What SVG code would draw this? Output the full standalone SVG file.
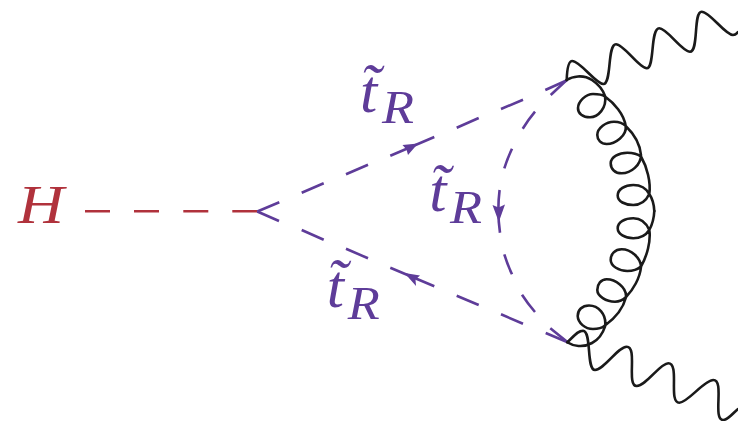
<svg xmlns="http://www.w3.org/2000/svg" width="738" height="421" viewBox="0 0 738 421">
<style>
.h{stroke:#b0323c;stroke-width:2.6;fill:none}
.s{stroke:#5e3c99;stroke-width:2.6;fill:none}
.k{stroke:#1a1a1a;stroke-width:2.6;fill:none;stroke-linejoin:round;stroke-linecap:round}
.a{fill:#5e3c99}
text{font-family:"Liberation Serif",serif;font-style:italic}
.p{fill:#5e3c99}
.t{font-size:62px}
.r{font-size:46px}
</style>
<g id="connectors">
<path class="h" d="M85,211.3H110M134,211.3H159M183.3,211.3H208.3M232.3,211.3H257.3"/>
<path class="s" d="M257.3,211.5L279.3,202.3M301.7,192.7L323.7,183.3M346,174.3L368,164.7M390.3,155.7L434.3,137M456.7,127.7L478.7,118M501,109L523,99.7M545.3,90L567,80.3"/>
<path class="s" d="M257.3,211.5L279,221M301.7,230L323.7,239.7M346,248.7L368,258.3M390.3,267.7L434.3,286.3M456.7,295.7L478.7,305M501,314.3L523,323.7M545.7,333L567.7,342.3"/>
<path class="s" d="M566.7,80L550.7,95M535,111.7A160,160 0 0 0 522.7,128.7M512,148.7A160,160 0 0 0 504.3,168.3M499.6,190A160,160 0 0 0 500,232.7M504.3,254.3A160,160 0 0 0 512,274.3M522,294.7A160,160 0 0 0 535,312M550.3,328.3L567.7,342.3"/>
<path class="a" d="M418,143.5L402.5,145L406.5,149.5L408,155Z"/>
<path class="a" d="M404.5,273L420,275.5L415.5,279.5L416,286Z"/>
<path class="a" d="M498.8,222L492.5,205L498.6,207.5L505,204.5Z"/>
<path class="k" d="M566.7,80C572,76.5 583,74 592,80C598,84 603,90 605,96C607,108 598,117.3 590,117.3C583,117.3 577.7,113.5 578,108C578.3,101 586,94 593,94C598,94 603,95 605,96.5C614,103 624,114 625.7,126C627,136 615,144 606.7,144C601,144 597.3,140 597.3,135C597.3,128 606,121.7 614,121.7C619,121.7 623,123 625.7,126C633,133 640,144 641,155C641,165 631,173.3 621.7,173.3C615,173.3 610.7,169 610.7,163.3C610.7,157 619,152.7 627.3,152.7C632,152.7 637,153.5 641,156.5C647,167 651,182 649.3,194C646,201 640,205 633.3,205C625,205 617.7,201.5 617.7,195.5C617.7,189 625,185 633.3,185C640,185 646,188 649.3,194C652,198 654,204 654.3,211"/>
<path class="k" d="M567.7,342.5C573,346 583,348 592,343C598,340 603,333 605,326.7C607,314 598,305.5 589,305.5C582,305.5 577.7,310 577.7,316C578,323 585,329 593,329C598,329 602,328 605,325.5C614,319 623,309 626,297.3C627,287 615,279.3 606.7,279.3C601,279.3 597.3,284 597.3,290C597.3,296 606,301.7 615,301.7C619,301.7 623,300 626,297C633,290 640,278 641,267C641,258 631,249.3 621.7,249.3C615,249.3 610.7,254 610.7,260C610.7,266 619,271 627.3,271C632,271 637,270 641,266.5C647,256 651,241 649.3,230C646,222.5 640,218.3 633.3,218.3C625,218.3 617.7,222 617.7,228.3C617.7,234 625,238.3 633.3,238.3C640,238.3 646,235 649.3,230C652,225 654,218 654.3,211"/>
<path class="k" d="M566.7,80C567,70 568,61 572.3,61C580,61 596,84 603.3,84C612,84 607,44.3 616,44.3C624,44.3 639,68.3 646.7,68.3C655,68.3 650,28.3 659.3,28.3C667,28.3 682,51.7 690,51.7C699,51.7 693,11.7 701.7,11.7C710,11.7 725,35 733,35C735,35 737,33.5 738,32"/>
<path class="k" d="M567.3,342.3C574,336 578,330.7 583,330.7C592,331 586,370 595,370C604,370 618,346.7 626.7,346.7C638,346.7 626,386 636.7,386C646,386 660,363.3 668.3,363.3C680,363.3 668,402.7 679.3,402.7C688,402.7 704,380 713.3,380C725,380 712,420 723.3,420C728,420 733,413 738,409"/>
</g>
<g id="label-H"><text x="18" y="222.7" font-size="55" fill="#b0323c" textLength="46" lengthAdjust="spacingAndGlyphs">H</text></g>
<g id="label-top"><text class="p t" x="360" y="111.7">t̃</text><text class="p r" x="382" y="123.3" textLength="32" lengthAdjust="spacingAndGlyphs">R</text></g>
<g id="label-mid"><text class="p t" x="429.3" y="211">t̃</text><text class="p r" x="450" y="222.7" textLength="32" lengthAdjust="spacingAndGlyphs">R</text></g>
<g id="label-bottom"><text class="p t" x="326.7" y="306.7">t̃</text><text class="p r" x="347.7" y="319" textLength="32" lengthAdjust="spacingAndGlyphs">R</text></g>
</svg>
